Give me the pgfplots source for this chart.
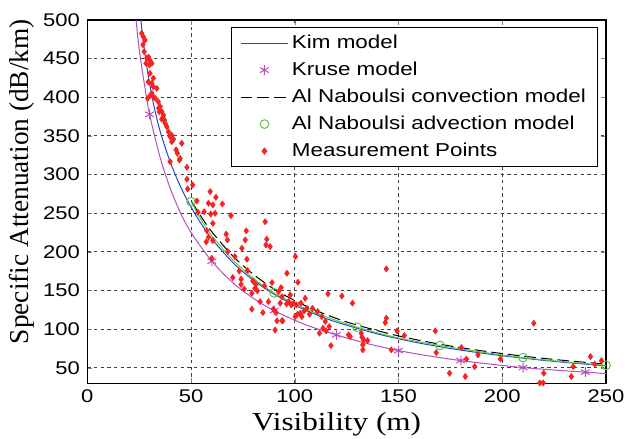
\documentclass[border=0pt]{standalone}
\usepackage{fontspec}
\setmainfont{Liberation Serif}
\setsansfont{Liberation Sans}[FakeStretch=1.2]
\newfontfamily\wideserif{Liberation Serif}[FakeStretch=1.2]
\usepackage{pgfplots}
\pgfplotsset{compat=1.18}

\definecolor{kimblue}{RGB}{40,70,200}
\definecolor{krusepurple}{RGB}{180,80,190}
\definecolor{advgreen}{RGB}{90,200,70}
\definecolor{measred}{RGB}{245,35,35}

\begin{document}
\begin{tikzpicture}
\begin{axis}[
  scale only axis,
  width=311.2pt, height=218pt,
  xmin=0, xmax=250, ymin=30, ymax=500,
  xtick={0,50,...,250}, ytick={50,100,...,500},
  /pgf/number format/assume math mode=true,
  tick label style={font=\sffamily\fontsize{11}{12}\selectfont},
  yticklabel style={xshift=-1pt},
  tick align=inside, major tick length=3pt,
  axis line style={line width=0.8pt},
  grid=major,
  grid style={black!75, dash pattern=on 2pt off 2pt, line width=0.6pt},
  xlabel={Visibility (m)},
  ylabel={Specific Attenuation (dB/km)},
  xlabel style={font=\wideserif\fontsize{15.6}{17}\selectfont,
    at={([xshift=-6pt,yshift=-28.2pt]axis description cs:0.5,0)}, anchor=base},
  ylabel style={font=\rmfamily\fontsize{16.4}{18}\selectfont,
    at={([xshift=-39.6pt,yshift=12pt]axis description cs:0,0.5)}, anchor=center},
  legend image code/.code={%
    \draw[mark repeat=2,mark phase=2,#1] plot coordinates {(0cm,0cm) (0.5cm,0cm) (1cm,0cm)};},
  legend style={at={([xshift=-4.8pt,yshift=-4.2pt]rel axis cs:1,1)}, anchor=north east,
    font=\sffamily\fontsize{11.2}{13}\selectfont, draw=black, line width=0.6pt,
    fill=white, cells={anchor=west}, row sep=2.6pt, inner xsep=5pt, inner ysep=2.5pt},
]
% Kim model
\addplot[kimblue, line width=0.6pt, smooth] coordinates {
  (25.8,500) (27,472) (28.5,443) (30,418) (32,390) (35,357) (40,316) (45,284)
  (50,258) (55,236) (60,217) (70,186.5) (80,163.5) (90,145.5) (100,131)
  (110,119.2) (120,109.3) (140,93.8) (160,82.1) (180,73) (200,65.7) (225,58.4) (250,52.6)
};
\addlegendentry{Kim model}
% Kruse model: line, then its markers
\addplot[krusepurple, line width=0.6pt, smooth, forget plot] coordinates {
  (23.5,500) (25,462) (27.5,417) (30,378) (35,323) (40,282) (45,250) (50,225)
  (60,188) (70,160.5) (80,140) (90,124) (105,106) (120,92.7) (135,81.4) (150,72.4)
  (165,65.3) (180,59.4) (195,54.6) (210,50.4) (225,47.2) (240,44.4) (250,42.7)
};
\addplot[krusepurple, only marks, mark=asterisk, mark size=3pt, line width=0.6pt] coordinates {
  (30,378) (60,188) (90,124) (120,92.7) (150,72.4) (180,59.4) (210,50.4) (240,44.4)
};
\addlegendentry{Kruse model}
% Al Naboulsi convection
\addplot[black, line width=0.6pt, dash pattern=on 7pt off 3pt, smooth] coordinates {
  (50,266) (55,245) (60,226) (70,195) (80,171) (90,152) (100,137) (110,124.5)
  (120,114) (130,105.3) (150,91.3) (170,80.6) (190,72.1) (210,65.2) (230,59.6) (250,54.8)
};
\addlegendentry{Al Naboulsi convection model}
% Al Naboulsi advection: line, then its markers
\addplot[advgreen, line width=0.6pt, smooth, forget plot] coordinates {
  (50,265) (55,241) (60,221) (70,190) (80,166) (90,147) (100,133) (110,121)
  (130,102.6) (150,88.7) (170,79) (190,70.5) (210,63.3) (230,57.9) (250,53.3)
};
\addplot[advgreen, only marks, mark=o, mark size=2.6pt, line width=0.6pt] coordinates {
  (50,265) (90,147) (130,102.6) (170,79) (210,63.3) (250,53.3)
};
\addlegendentry{Al Naboulsi advection model}
% Measurement points
\addplot[measred, only marks, mark=diamond*, mark size=1.8pt] coordinates {
  (26.2,482.7) (27.0,478.4) (27.8,474) (26.8,468) (27.4,459) (28.7,450.4) (30.2,448)
  (29.9,441.8) (28.3,444) (31.1,444) (29.5,452) (30.2,431) (31.8,424.6) (31.1,418)
  (29.4,420) (31.8,413.7) (33.5,411.6) (31.1,405) (31.8,400.8) (32.7,398.7) (29.1,398.7)
  (30.5,403) (34.2,394.3) (35.1,388) (34.4,386) (35.9,381.4) (34.7,381.4) (36.7,377)
  (36.4,374) (35.9,371.6) (37.1,370.7) (37.5,366.4) (38.3,362) (39.1,355.5) (39.9,349)
  (40.7,351) (40.7,342.6) (41.5,345.7) (45.5,340.5) (42.8,332) (43.4,327.6) (44.7,321)
  (44.4,319) (39.9,316.7) (48,309.5) (48,294) (50.8,286.6) (48.4,281.5) (52.8,266)
  (59.2,278) (62,270.7) (58.4,263) (60.5,260.8) (65.1,262) (56.3,252) (53.3,251.3)
  (61.6,250) (59.5,249) (69.2,247) (60.5,237) (85.7,239) (76.6,227.3) (57.6,227.5)
  (66.9,223) (67.5,215.5) (57.3,213) (60.5,214.6) (58.4,219) (76.1,215.5) (86.5,216.4)
  (86.1,209) (88.1,206.8) (74.5,204.8) (60,191.8) (67.7,200.4) (71.1,194) (76.9,190.5)
  (73.2,175.4) (77.2,175.8) (70.1,166.8) (74.1,164.7) (79.8,162.5) (81.2,158) (85.4,156)
  (74.1,158) (75.6,152) (80.8,153) (82,149.6) (89,160.3) (93.4,153.8) (96.2,172.4)
  (100.3,194) (101.5,160.8) (79.3,146.6) (83.3,135.7) (92.2,148.7) (93,133.7) (97,135.7)
  (98.3,131.5) (99.4,133.7) (79.3,126) (84.6,121.5) (91,121.5) (91.4,110.8) (94.2,110.8)
  (90.5,99) (100.2,116.3) (97.8,144.4) (93.8,142) (87.3,135.7) (89.7,126)
  (105,140) (103,133.7) (100.7,131.5) (96.1,132.8) (105.8,127) (108.5,127) (104.5,123.7)
  (102.6,120.7) (107.1,119.4) (111,122.8) (113,116.3) (101.3,119.4) (103.4,116.3)
  (93.8,111) (111.9,94.9) (116.6,103.4) (115.1,97.8) (113.6,101.3) (114.7,110)
  (117.4,78.8) (126.7,90.5) (125.9,92.7) (132.4,89.7) (132,94.9) (135.1,85.3) (133.2,86.2)
  (132.8,79.7) (132.8,73.3) (116,145.7) (122.7,143) (127.8,133.7) (144.1,178)
  (144.1,114.3) (143.6,108.6) (149.3,97.8) (146.5,73.3) (152.8,91.8) (167.7,97.8)
  (168.2,69.8) (180.3,76.3) (182.7,61.3) (188.3,66.8) (186.7,51.7) (174.6,43.1)
  (182.2,38.8) (199.1,61.6) (215.2,107.8) (234.2,51.7) (220,43.1) (233.3,38.8)
  (218.1,30.5) (219.7,30.5) (242.5,64.6) (244.6,54.8) (247.8,59.4)
};
\addlegendentry{Measurement Points}
\end{axis}
\pgfresetboundingbox
\path (current axis.south west) ++(-52.4pt,-32.8pt) rectangle ++(375pt,262.8pt);
\end{tikzpicture}
\end{document}
